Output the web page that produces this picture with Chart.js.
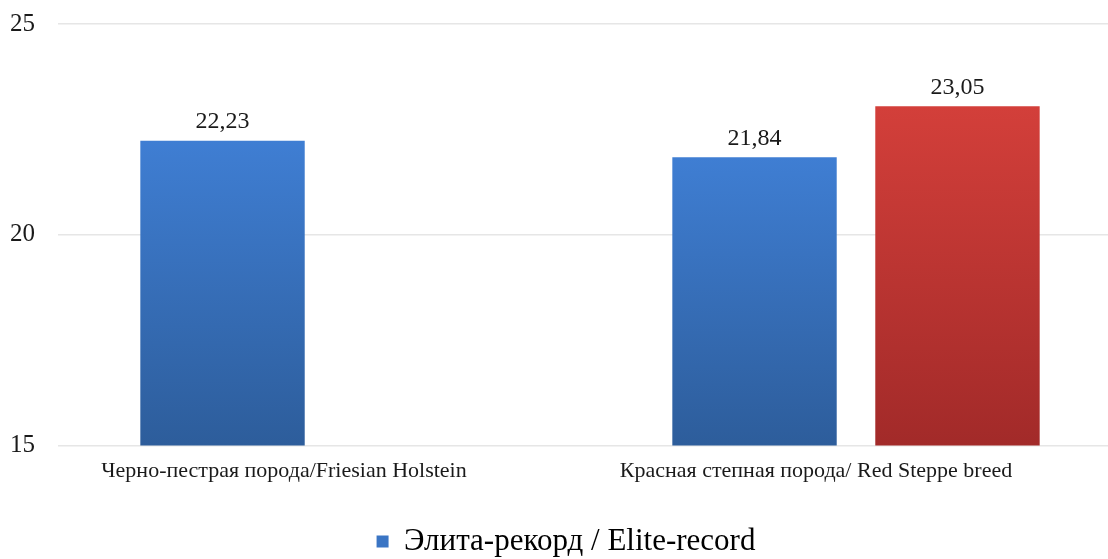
<!DOCTYPE html>
<html>
<head>
<meta charset="utf-8">
<script src="https://cdn.jsdelivr.net/npm/chart.js@4.4.1/dist/chart.umd.min.js"></script>
<style>
  html, body { margin: 0; padding: 0; background: #fff; overflow: hidden; }
  #wrap { width: 1108px; height: 559px; overflow: hidden; }
</style>
</head>
<body>
<div id="wrap"><canvas id="chart" width="1130" height="559"></canvas></div>
<script>
const categories = [`Черно-пестрая порода/Friesian Holstein`, `Красная степная порода/ Red Steppe breed`];
const eliteValues = [22.23, 21.84];
const redValues = [null, 23.05];
const yTicks = [15, 20, 25];

const SERIF = `"Liberation Serif", "DejaVu Serif", serif`;

// vertical gradient per bar, lighter at the top
function barGradient(top, bottom) {
  return (ctx) => {
    const chart = ctx.chart;
    const v = ctx.raw;
    if (!chart.chartArea || v == null) return top;
    const y = chart.scales.y;
    const y0 = y.getPixelForValue(v);
    const y1 = y.getPixelForValue(y.min);
    const g = chart.ctx.createLinearGradient(0, y0, 0, y1);
    g.addColorStop(0, top);
    g.addColorStop(1, bottom);
    return g;
  };
}

const valueLabels = {
  id: `valueLabels`,
  afterDatasetsDraw(chart) {
    const { ctx } = chart;
    ctx.save();
    ctx.font = `24px ${SERIF}`;
    ctx.fillStyle = `#1a1a1a`;
    ctx.textAlign = `center`;
    ctx.textBaseline = `bottom`;
    chart.data.datasets.forEach((ds, i) => {
      chart.getDatasetMeta(i).data.forEach((bar, j) => {
        const v = ds.data[j];
        if (v == null) return;
        ctx.fillText(v.toFixed(2).replace(`.`, `,`), bar.x, bar.y - 7);
      });
    });
    ctx.restore();
  },
};

// nudge the legend a bit lower, closer to the bottom edge
const legendNudge = {
  id: `legendNudge`,
  afterLayout(chart) {
    const lg = chart.legend;
    if (!lg) return;
    lg.top += 8;
    lg.bottom += 8;
  },
};

new Chart(document.getElementById(`chart`), {
  type: `bar`,
  data: {
    labels: categories,
    datasets: [
      {
        label: `Элита-рекорд / Elite-record`,
        data: eliteValues,
        backgroundColor: barGradient(`#3f7ed3`, `#2d5d9b`),
        legendColor: `#3a75c4`,
      },
      {
        label: `red`,
        data: redValues,
        backgroundColor: barGradient(`#d33f3a`, `#a22a29`),
      },
    ],
  },
  options: {
    responsive: false,
    animation: false,
    layout: { padding: { top: 0, right: 8, left: 10, bottom: 0 } },
    datasets: { bar: { categoryPercentage: 0.763, barPercentage: 0.81, skipNull: false } },
    scales: {
      x: {
        grid: { display: false },
        border: { display: false },
        ticks: { color: `#1a1a1a`, font: { family: SERIF, size: 22 }, padding: 4, labelOffset: -40 },
        afterFit: (axis) => { axis.height += 30; },
      },
      y: {
        min: 15,
        max: 25,
        afterBuildTicks: (axis) => { axis.ticks = yTicks.map((v) => ({ value: v })); },
        afterFit: (axis) => { axis.width = 48; },
        grid: { color: `#e6e6e6`, lineWidth: 1.5, drawTicks: false },
        border: { display: false },
        ticks: { color: `#1a1a1a`, font: { family: SERIF, size: 25 }, padding: 9, crossAlign: `far` },
      },
    },
    plugins: {
      tooltip: { enabled: false },
      legend: {
        position: `bottom`,
        labels: {
          generateLabels: (chart) => [{
            text: chart.data.datasets[0].label,
            fillStyle: chart.data.datasets[0].legendColor,
            strokeStyle: chart.data.datasets[0].legendColor,
            lineWidth: 0,
            datasetIndex: 0,
          }],
          boxWidth: 12,
          boxHeight: 12,
          color: `#1a1a1a`,
          font: { family: SERIF, size: 31 },
          padding: 0,
        },
      },
    },
  },
  plugins: [valueLabels, legendNudge],
});
</script>
</body>
</html>
